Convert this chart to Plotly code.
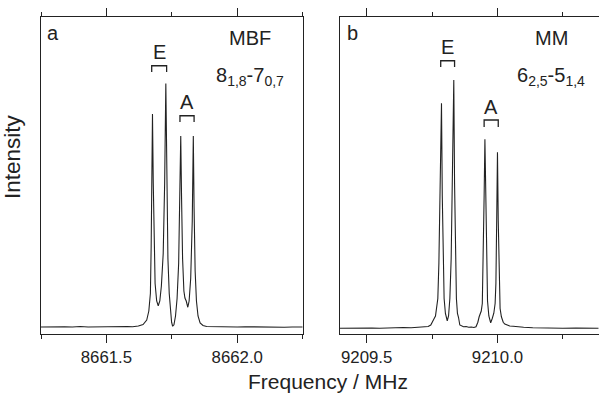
import plotly.graph_objects as go

# ---------------- data ----------------
# Panel a: MBF 8(1,8)-7(0,7)
freq_a = [8661.250, 8661.280, 8661.310, 8661.340, 8661.370, 8661.400, 8661.430,
          8661.460, 8661.490, 8661.520, 8661.550, 8661.580, 8661.600, 8661.622,
          8661.640, 8661.654, 8661.662, 8661.668, 8661.671, 8661.6735, 8661.676,
          8661.679, 8661.682, 8661.686, 8661.692, 8661.698, 8661.704, 8661.710,
          8661.717, 8661.7225, 8661.727, 8661.7305, 8661.735, 8661.740, 8661.745,
          8661.749, 8661.753, 8661.758, 8661.764, 8661.770, 8661.776, 8661.781,
          8661.784, 8661.787, 8661.791, 8661.796, 8661.800, 8661.805, 8661.811,
          8661.816, 8661.822, 8661.828, 8661.832, 8661.835, 8661.839, 8661.844,
          8661.850, 8661.858, 8661.869, 8661.883, 8661.910, 8661.940, 8661.970,
          8662.000, 8662.030, 8662.060, 8662.090, 8662.120, 8662.150, 8662.180,
          8662.210, 8662.250]
int_a = [0.026, 0.027, 0.026, 0.027, 0.026, 0.028, 0.026,
         0.027, 0.028, 0.026, 0.027, 0.028, 0.027, 0.030,
         0.036, 0.054, 0.090, 0.160, 0.350, 0.600, 0.878,
         0.600, 0.350, 0.200, 0.130, 0.111, 0.130, 0.190,
         0.320, 0.600, 1.000, 0.600, 0.300, 0.160, 0.080,
         0.045, 0.029, 0.035, 0.070, 0.140, 0.280, 0.550,
         0.790, 0.550, 0.300, 0.170, 0.142, 0.130, 0.105,
         0.130, 0.220, 0.450, 0.790, 0.500, 0.250, 0.130,
         0.070, 0.042, 0.032, 0.028, 0.027, 0.026, 0.027,
         0.026, 0.027, 0.026, 0.027, 0.026, 0.026, 0.025,
         0.026, 0.026]

# Panel b: MM 6(2,5)-5(1,4)
freq_b = [9209.398, 9209.430, 9209.460, 9209.490, 9209.520, 9209.550, 9209.580,
          9209.610, 9209.640, 9209.670, 9209.700, 9209.720, 9209.735, 9209.745,
          9209.752, 9209.757, 9209.763, 9209.768, 9209.772, 9209.776, 9209.780,
          9209.786, 9209.789, 9209.792, 9209.796, 9209.801, 9209.808, 9209.813,
          9209.818, 9209.823, 9209.828, 9209.833, 9209.836, 9209.839, 9209.843,
          9209.847, 9209.851, 9209.856, 9209.862, 9209.870, 9209.880, 9209.890,
          9209.900, 9209.910, 9209.918, 9209.925, 9209.930, 9209.938, 9209.942,
          9209.946, 9209.949, 9209.952, 9209.955, 9209.958, 9209.962, 9209.967,
          9209.974, 9209.980, 9209.986, 9209.991, 9209.994, 9209.997, 9210.000,
          9210.003, 9210.006, 9210.010, 9210.015, 9210.022, 9210.028, 9210.035,
          9210.047, 9210.060, 9210.072, 9210.100, 9210.135, 9210.170, 9210.210,
          9210.250, 9210.300, 9210.350, 9210.387]
int_b = [0.021, 0.022, 0.021, 0.023, 0.022, 0.021, 0.023,
         0.022, 0.024, 0.023, 0.025, 0.024, 0.028, 0.034,
         0.045, 0.058, 0.070, 0.100, 0.140, 0.280, 0.550,
         0.921, 0.550, 0.280, 0.140, 0.080, 0.051, 0.070,
         0.140, 0.300, 0.600, 1.014, 0.600, 0.300, 0.140,
         0.080, 0.065, 0.034, 0.030, 0.027, 0.028, 0.025,
         0.026, 0.024, 0.027, 0.045, 0.067, 0.090, 0.120,
         0.300, 0.550, 0.777, 0.550, 0.300, 0.130, 0.070,
         0.043, 0.060, 0.081, 0.120, 0.200, 0.450, 0.725,
         0.450, 0.200, 0.100, 0.067, 0.045, 0.038, 0.034,
         0.030, 0.029, 0.027, 0.025, 0.023, 0.022, 0.022,
         0.021, 0.022, 0.021, 0.021]

# line centres of the E and A doublets
lines_a = {"E": [8661.676, 8661.727], "A": [8661.784, 8661.832]}
lines_b = {"E": [9209.786, 9209.833], "A": [9209.952, 9210.000]}

tick_vals_a = [8661.5, 8662.0]
tick_vals_b = [9209.5, 9210.0]
panel_tags = ["a", "b"]
molecules = ["MBF", "MM"]
transitions = ["8<sub>1,8</sub>-7<sub>0,7</sub>", "6<sub>2,5</sub>-5<sub>1,4</sub>"]

# ---------------- styling ----------------
W, H = 599, 395
INK = "#222222"
FONT = "Liberation Sans, Arial, sans-serif"
dom_a = [41 / W, 302.7 / W]
dom_b = [340 / W, 0.9995]
ydom = [1 - 333.5 / H, 1 - 17 / H]
yr = [0, 1.266]
range_a = [8661.25, 8662.25]
range_b = [9209.398, 9210.387]

fig = go.Figure()
fig.add_trace(go.Scatter(x=freq_a, y=int_a, mode="lines", xaxis="x", yaxis="y",
                         line=dict(color="#222222", width=1.1), showlegend=False, hoverinfo="skip"))
fig.add_trace(go.Scatter(x=freq_b, y=int_b, mode="lines", xaxis="x2", yaxis="y2",
                         line=dict(color="#222222", width=1.1), showlegend=False, hoverinfo="skip"))


def xaxis_cfg(dom, rng, t0, yanchor, top=False, over=None):
    d = dict(range=rng, anchor=yanchor, showgrid=False, zeroline=False,
             showline=True, linecolor=INK, linewidth=1.3, mirror=False,
             ticks="outside", ticklen=8, tickwidth=1.3, tickcolor=INK,
             tickmode="linear", tick0=t0, dtick=0.5, tickformat=".1f",
             tickfont=dict(family=FONT, size=16.8, color=INK),
             minor=dict(ticks="outside", ticklen=4, tickwidth=1.3, tickcolor=INK,
                        dtick=0.25, tick0=t0, showgrid=False))
    if top:
        d.update(side="top", overlaying=over, matches=over, showticklabels=False)
    else:
        d.update(domain=dom)
    return d


def yaxis_cfg(xanchor, mirror):
    return dict(domain=ydom, range=yr, anchor=xanchor, showgrid=False, zeroline=False,
                showline=True, linecolor=INK, linewidth=1.3, mirror=mirror,
                ticks="", showticklabels=False)


fig.update_layout(
    width=W, height=H, margin=dict(l=0, r=0, t=0, b=0),
    paper_bgcolor="white", plot_bgcolor="white",
    xaxis=xaxis_cfg(dom_a, range_a, tick_vals_a[0], "y"),
    xaxis2=xaxis_cfg(dom_b, range_b, tick_vals_b[0], "y2"),
    xaxis3=xaxis_cfg(dom_a, range_a, tick_vals_a[0], "y", top=True, over="x"),
    xaxis4=xaxis_cfg(dom_b, range_b, tick_vals_b[0], "y2", top=True, over="x2"),
    yaxis=yaxis_cfg("x", True),
    yaxis2=yaxis_cfg("x2", False),
)
# invisible helper traces so the top axes are drawn
fig.add_trace(go.Scatter(x=[None], y=[None], xaxis="x3", yaxis="y", showlegend=False, hoverinfo="skip"))
fig.add_trace(go.Scatter(x=[None], y=[None], xaxis="x4", yaxis="y2", showlegend=False, hoverinfo="skip"))

# doublet brackets and labels
bracket = {  # (bar level, leg level, label level) per panel/doublet
    ("x", "E"): (1.071, 1.046, 1.127), ("x", "A"): (0.871, 0.846, 0.927),
    ("x2", "E"): (1.091, 1.066, 1.147), ("x2", "A"): (0.854, 0.826, 0.907),
}
pad = 0.003
for xr, yref, lines in (("x", "y", lines_a), ("x2", "y2", lines_b)):
    for lab, (f1, f2) in lines.items():
        top, leg, ylab = bracket[(xr, lab)]
        x0, x1 = f1 - pad, f2 + pad
        fig.add_shape(type="path", xref=xr, yref=yref,
                      path=f"M {x0},{leg} L {x0},{top} L {x1},{top} L {x1},{leg}",
                      line=dict(color=INK, width=1.3))
        fig.add_annotation(x=(x0 + x1) / 2, y=ylab, xref=xr, yref=yref, text=lab,
                           showarrow=False, font=dict(family=FONT, size=20, color=INK),
                           xanchor="center", yanchor="middle")

# panel tags, molecule names, transitions
for i, (xr, yr_) in enumerate((("x domain", "y domain"), ("x2 domain", "y2 domain"))):
    fig.add_annotation(x=[0.047, 0.050][i], y=0.949, xref=xr, yref=yr_, text=panel_tags[i],
                       showarrow=False, font=dict(family=FONT, size=20, color=INK),
                       xanchor="center", yanchor="middle")
    fig.add_annotation(x=[0.799, 0.817][i], y=0.934, xref=xr, yref=yr_, text=molecules[i],
                       showarrow=False, font=dict(family=FONT, size=20, color=INK),
                       xanchor="center", yanchor="middle")
    fig.add_annotation(x=[0.80, 0.817][i], y=0.813, xref=xr, yref=yr_, text=transitions[i],
                       showarrow=False, font=dict(family=FONT, size=20, color=INK),
                       xanchor="center", yanchor="middle")

# axis titles
fig.add_annotation(x=328 / W, y=0, xref="paper", yref="paper",
                   text="Frequency / MHz", showarrow=False,
                   font=dict(family=FONT, size=21, color=INK), xanchor="center", yanchor="bottom")
fig.add_annotation(x=12 / W, y=1 - 157 / H, xref="paper", yref="paper",
                   text="Intensity", showarrow=False, textangle=-90,
                   font=dict(family=FONT, size=22.5, color=INK), xanchor="center", yanchor="middle")

fig.write_html("out.html", config={"displayModeBar": False},
               post_script="document.body.style.margin='0px';")
